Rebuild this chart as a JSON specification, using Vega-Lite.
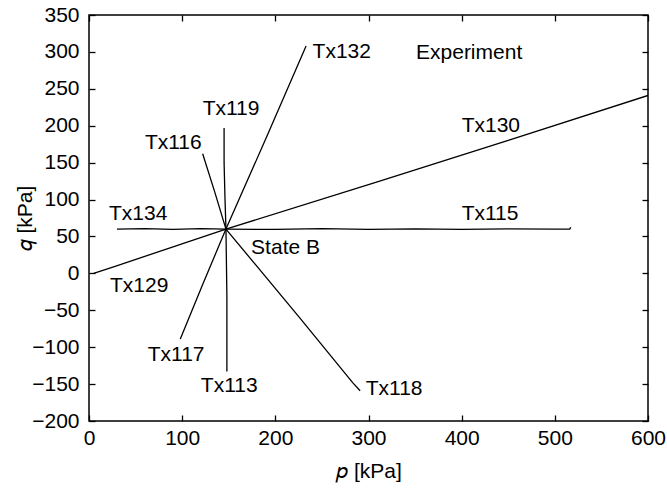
{
  "$schema": "https://vega.github.io/schema/vega-lite/v6.json",
  "width": 559,
  "height": 406,
  "autosize": {"type": "none"},
  "padding": {"left": 89, "top": 15, "right": 19, "bottom": 70},
  "background": "white",
  "config": {
    "view": {"stroke": "black", "strokeWidth": 1.5},
    "font": "Liberation Sans",
    "axis": {
      "domain": false,
      "grid": false,
      "tickColor": "black",
      "tickSize": -6,
      "tickWidth": 1.3,
      "labelFont": "Liberation Sans",
      "labelFontSize": 21,
      "labelColor": "black",
      "titleFont": "Liberation Sans",
      "titleFontSize": 21,
      "titleFontWeight": "normal",
      "titleColor": "black"
    }
  },
  "datasets": {
    "traj": [
      {"id": "Tx134", "i": 0, "p": 147, "q": 60},
      {"id": "Tx134", "i": 1, "p": 120, "q": 60.5},
      {"id": "Tx134", "i": 2, "p": 90, "q": 59.5},
      {"id": "Tx134", "i": 3, "p": 60, "q": 60.5},
      {"id": "Tx134", "i": 4, "p": 30, "q": 60},
      {"id": "Tx115", "i": 0, "p": 147, "q": 60},
      {"id": "Tx115", "i": 1, "p": 200, "q": 59.5},
      {"id": "Tx115", "i": 2, "p": 250, "q": 60.5},
      {"id": "Tx115", "i": 3, "p": 300, "q": 59.5},
      {"id": "Tx115", "i": 4, "p": 350, "q": 60.3},
      {"id": "Tx115", "i": 5, "p": 400, "q": 59.6},
      {"id": "Tx115", "i": 6, "p": 450, "q": 60.4},
      {"id": "Tx115", "i": 7, "p": 500, "q": 59.8},
      {"id": "Tx115", "i": 8, "p": 516, "q": 60},
      {"id": "Tx115", "i": 9, "p": 517, "q": 62.5},
      {"id": "Tx119", "i": 0, "p": 147, "q": 60},
      {"id": "Tx119", "i": 1, "p": 146, "q": 100},
      {"id": "Tx119", "i": 2, "p": 145, "q": 150},
      {"id": "Tx119", "i": 3, "p": 145, "q": 197},
      {"id": "Tx116", "i": 0, "p": 147, "q": 60},
      {"id": "Tx116", "i": 1, "p": 135, "q": 110},
      {"id": "Tx116", "i": 2, "p": 122, "q": 162},
      {"id": "Tx132", "i": 0, "p": 147, "q": 60},
      {"id": "Tx132", "i": 1, "p": 190, "q": 183},
      {"id": "Tx132", "i": 2, "p": 233, "q": 308},
      {"id": "Tx117", "i": 0, "p": 147, "q": 60},
      {"id": "Tx117", "i": 1, "p": 122, "q": -15},
      {"id": "Tx117", "i": 2, "p": 98, "q": -89},
      {"id": "Tx113", "i": 0, "p": 147, "q": 60},
      {"id": "Tx113", "i": 1, "p": 148, "q": -30},
      {"id": "Tx113", "i": 2, "p": 148, "q": -133},
      {"id": "Tx118", "i": 0, "p": 147, "q": 60},
      {"id": "Tx118", "i": 1, "p": 226, "q": -60},
      {"id": "Tx118", "i": 2, "p": 283, "q": -148},
      {"id": "Tx118", "i": 3, "p": 291, "q": -159},
      {"id": "Tx129", "i": 0, "p": 147, "q": 60},
      {"id": "Tx129", "i": 1, "p": 28, "q": 9.5},
      {"id": "Tx129", "i": 2, "p": 5, "q": 0},
      {"id": "Tx130", "i": 0, "p": 147, "q": 60},
      {"id": "Tx130", "i": 1, "p": 312, "q": 125},
      {"id": "Tx130", "i": 2, "p": 450, "q": 180},
      {"id": "Tx130", "i": 3, "p": 600, "q": 241}
    ],
    "labels": [
      {"text": "Tx132", "p": 240, "q": 300},
      {"text": "Tx119", "p": 122, "q": 223},
      {"text": "Tx116", "p": 60, "q": 177},
      {"text": "Tx134", "p": 21.5, "q": 80.5},
      {"text": "State B", "p": 174, "q": 35},
      {"text": "Tx129", "p": 22.5, "q": -17},
      {"text": "Tx117", "p": 63, "q": -111},
      {"text": "Tx113", "p": 120, "q": -152},
      {"text": "Tx118", "p": 297, "q": -156},
      {"text": "Tx115", "p": 400, "q": 80.5},
      {"text": "Tx130", "p": 400, "q": 200},
      {"text": "Experiment", "p": 351, "q": 298}
    ]
  },
  "resolve": {"axis": {"x": "independent", "y": "independent"}},
  "layer": [
    {
      "data": {"name": "traj"},
      "mark": {"type": "line", "color": "black", "strokeWidth": 1.3, "clip": true},
      "encoding": {
        "x": {
          "field": "p", "type": "quantitative",
          "scale": {"domain": [0, 600], "nice": false, "zero": false},
          "axis": {"values": [0, 100, 200, 300, 400, 500, 600], "format": "d", "labelPadding": 12, "labelFlush": false, "title": "𝑝 [kPa]", "titlePadding": 12}
        },
        "y": {
          "field": "q", "type": "quantitative",
          "scale": {"domain": [-200, 350], "nice": false, "zero": false},
          "axis": {"values": [-200, -150, -100, -50, 0, 50, 100, 150, 200, 250, 300, 350], "format": "d", "labelPadding": 16, "labelFlush": false, "title": "𝑞 [kPa]", "titlePadding": -4}
        },
        "detail": {"field": "id"},
        "order": {"field": "i", "type": "quantitative"}
      }
    },
    {
      "data": {"name": "labels"},
      "mark": {"type": "text", "align": "left", "baseline": "middle", "fontSize": 21, "font": "Liberation Sans", "color": "black"},
      "encoding": {
        "x": {"field": "p", "type": "quantitative", "axis": null},
        "y": {"field": "q", "type": "quantitative", "axis": null},
        "text": {"field": "text"}
      }
    },
    {
      "data": {"name": "labels"},
      "mark": {"type": "point", "opacity": 0},
      "encoding": {
        "x": {"field": "p", "type": "quantitative", "axis": {"orient": "top", "values": [0, 100, 200, 300, 400, 500, 600], "labels": false, "title": null}},
        "y": {"field": "q", "type": "quantitative", "axis": {"orient": "right", "values": [-200, -150, -100, -50, 0, 50, 100, 150, 200, 250, 300, 350], "labels": false, "title": null}}
      }
    }
  ]
}
